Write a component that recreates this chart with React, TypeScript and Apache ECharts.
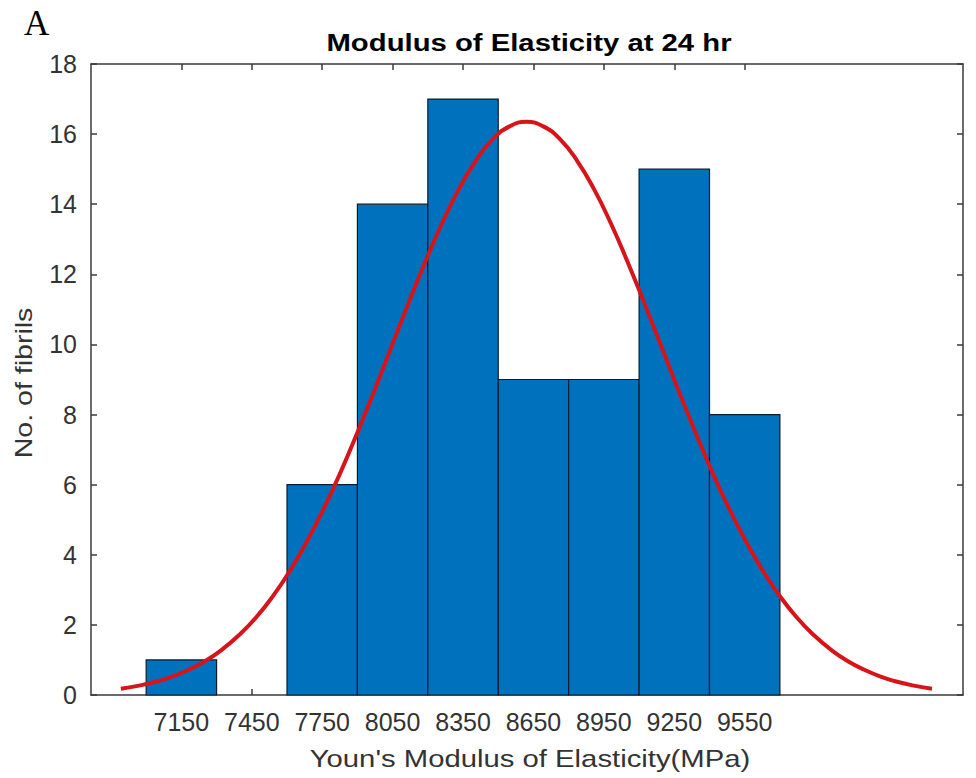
import React, { useEffect, useRef } from "react";
import * as echarts from "echarts";

const TITLE = "Modulus of Elasticity at 24 hr";
const X_LABEL = "Youn's Modulus of Elasticity(MPa)";
const Y_LABEL = "No. of fibrils";
const PANEL = "A";

const BIN_WIDTH = 300;
const binCenters = [7150, 7450, 7750, 8050, 8350, 8650, 8950, 9250, 9550];
const counts = [1, 0, 6, 14, 17, 9, 9, 15, 8];

// fitted normal curve
const fitX = [6892, 6964, 7036, 7108, 7180, 7252, 7324, 7396, 7468, 7540, 7612, 7684, 7756,
  7828, 7900, 7972, 8044, 8116, 8188, 8260, 8332, 8404, 8476, 8548, 8620, 8692, 8764, 8836,
  8908, 8980, 9052, 9124, 9196, 9268, 9340, 9412, 9484, 9556, 9628, 9700, 9772, 9844, 9916,
  9988, 10060, 10132, 10204, 10276, 10348];
const fitY = [0.18, 0.26, 0.37, 0.52, 0.72, 0.97, 1.3, 1.71, 2.21, 2.82, 3.54, 4.37, 5.31,
  6.35, 7.49, 8.68, 9.92, 11.15, 12.34, 13.45, 14.43, 15.24, 15.85, 16.22, 16.35, 16.22, 15.85,
  15.24, 14.43, 13.45, 12.34, 11.15, 9.92, 8.68, 7.49, 6.35, 5.31, 4.37, 3.54, 2.82, 2.21, 1.71,
  1.3, 0.97, 0.72, 0.52, 0.37, 0.26, 0.18];

const yTicks = [0, 2, 4, 6, 8, 10, 12, 14, 16, 18];

const X_MIN = 6765;
const X_MAX = 10480;

export default function App() {
  const ref = useRef<HTMLDivElement>(null);
  useEffect(() => {
    if (!ref.current) return;
    const chart = echarts.init(ref.current, null, { renderer: "svg" });
    const font = "Liberation Sans, Arial, sans-serif";
    const axisColor = "#3a3a3a";
    const textColor = "#333333";
    const barData = binCenters.map((c, i) => [c, counts[i]]);
    const lineData = fitX.map((x, i) => [x, fitY[i]]);
    chart.setOption({
      animation: false,
      backgroundColor: "#ffffff",
      graphic: [
        {
          type: "text",
          left: 24,
          top: 6,
          style: { text: PANEL, font: "35px 'Liberation Serif', 'Times New Roman', serif", fill: "#000" },
        },
        {
          type: "text",
          x: 529,
          y: 43,
          scaleX: 1.22,
          style: {
            text: TITLE,
            fontFamily: font,
            fontSize: 24,
            fontWeight: "bold",
            fill: "#000",
            align: "center",
            verticalAlign: "middle",
          },
        },
        {
          type: "text",
          x: 530,
          y: 759,
          scaleX: 1.22,
          style: {
            text: X_LABEL,
            fontFamily: font,
            fontSize: 24,
            fill: textColor,
            align: "center",
            verticalAlign: "middle",
          },
        },
        {
          type: "text",
          x: 24,
          y: 383,
          rotation: Math.PI / 2,
          scaleX: 1.19,
          style: {
            text: Y_LABEL,
            fontFamily: font,
            fontSize: 24,
            fill: textColor,
            align: "center",
            verticalAlign: "middle",
          },
        },
      ],
      grid: { left: 91, right: 13, top: 64, bottom: 83, containLabel: false },
      xAxis: [
        {
          type: "value",
          min: X_MIN,
          max: X_MAX,
          position: "bottom",
          axisLine: { show: true, onZero: false, lineStyle: { color: axisColor, width: 1.5 } },
          axisTick: { show: true, inside: true, length: 6, customValues: binCenters, lineStyle: { color: axisColor, width: 1.5 } },
          axisLabel: {
            show: true,
            customValues: binCenters,
            margin: 14,
            fontFamily: font,
            fontSize: 25,
            color: textColor,
            formatter: (v: number) => String(v),
          },
          splitLine: { show: false },
        },
        {
          type: "value",
          min: X_MIN,
          max: X_MAX,
          position: "top",
          axisLine: { show: true, onZero: false, lineStyle: { color: axisColor, width: 1.5 } },
          axisTick: { show: true, inside: true, length: 6, customValues: binCenters, lineStyle: { color: axisColor, width: 1.5 } },
          axisLabel: { show: false },
          splitLine: { show: false },
        },
      ],
      yAxis: [
        {
          type: "value",
          min: 0,
          max: 18,
          interval: 2,
          position: "left",
          axisLine: { show: true, onZero: false, lineStyle: { color: axisColor, width: 1.5 } },
          axisTick: { show: true, inside: true, length: 6, lineStyle: { color: axisColor, width: 1.5 } },
          axisLabel: {
            show: true,
            margin: 14,
            fontFamily: font,
            fontSize: 25,
            color: textColor,
            customValues: yTicks,
            formatter: (v: number) => String(v),
          },
          splitLine: { show: false },
        },
        {
          type: "value",
          min: 0,
          max: 18,
          interval: 2,
          position: "right",
          axisLine: { show: true, onZero: false, lineStyle: { color: axisColor, width: 1.5 } },
          axisTick: { show: true, inside: true, length: 6, lineStyle: { color: axisColor, width: 1.5 } },
          axisLabel: { show: false },
          splitLine: { show: false },
        },
      ],
      series: [
        {
          type: "custom",
          xAxisIndex: 0,
          yAxisIndex: 0,
          encode: { x: 0, y: 1 },
          data: barData,
          z: 2,
          renderItem: (params: any, api: any) => {
            const x = api.value(0);
            const y = api.value(1);
            if (!y) return null;
            const p0 = api.coord([x - BIN_WIDTH / 2, y]);
            const p1 = api.coord([x + BIN_WIDTH / 2, 0]);
            return {
              type: "rect",
              shape: { x: p0[0], y: p0[1], width: p1[0] - p0[0], height: p1[1] - p0[1] },
              style: { fill: "#0072BD", stroke: "#0d1b2e", lineWidth: 1.2 },
            };
          },
        },
        {
          type: "line",
          xAxisIndex: 0,
          yAxisIndex: 0,
          data: lineData,
          smooth: true,
          showSymbol: false,
          z: 5,
          lineStyle: { color: "#d7141a", width: 4 },
        },
      ],
    });
    return () => chart.dispose();
  }, []);
  return (
    <div
      ref={ref}
      style={{ position: "fixed", left: 0, top: 0, width: 976, height: 778, background: "#fff" }}
    />
  );
}
